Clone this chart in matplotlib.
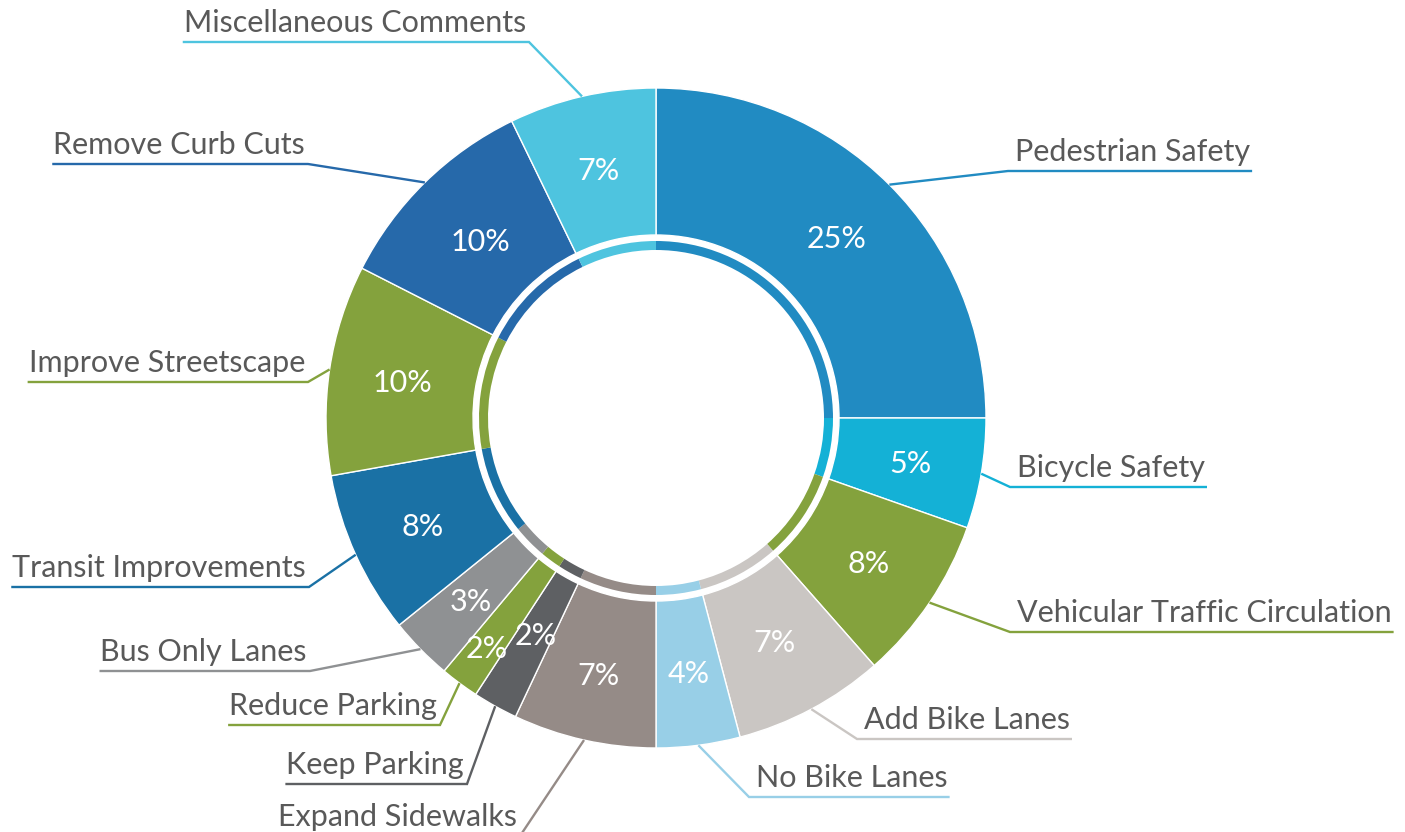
import numpy as np
import matplotlib.pyplot as plt

# Survey comment categories (clockwise from 12 o'clock)
categories = ["Pedestrian Safety", "Bicycle Safety", "Vehicular Traffic Circulation",
              "Add Bike Lanes", "No Bike Lanes", "Expand Sidewalks", "Keep Parking",
              "Reduce Parking", "Bus Only Lanes", "Transit Improvements",
              "Improve Streetscape", "Remove Curb Cuts", "Miscellaneous Comments"]
shares = [25.0, 5.4, 8.1, 7.4, 4.1, 7.0, 2.2, 1.9, 3.1, 8.0, 10.3, 10.3, 7.2]
pct_labels = ["25%", "5%", "8%", "7%", "4%", "7%", "2%", "2%", "3%", "8%", "10%", "10%", "7%"]
colors = ["#218bc2", "#14b1d6", "#84a23d", "#cac6c3", "#98cfe7", "#958b87", "#5e6063",
          "#84a23d", "#8f9193", "#1a71a5", "#84a23d", "#2669aa", "#4ec4df"]

# layout (pixel coords, y down)
W, H = 1405, 832
cx, cy = 656, 418
R_out, ring_w = 330, 147
R_in, in_w = 177, 9
elbows = [(1008, 171), (1010, 487), (1010, 632), (857, 739), (749, 797), (520, 836),
          (467, 784), (440, 725), (310, 671), (309, 587), (308, 382), (308, 164), (529, 42)]
sides = ["r", "r", "r", "r", "r", "l", "l", "l", "l", "l", "l", "l", "l"]
pct_r = [256, 258, 256, 252, 256, 262, 247, 285, 259, 256, 256, 250, 256]

text_col = "#595959"
font = "Lato"
fs = 22

def py(y):
    return H - y

fig = plt.figure(figsize=(W / 100, H / 100), dpi=100)
ax = fig.add_axes([0, 0, 1, 1])

wedges, _ = ax.pie(shares, colors=colors, startangle=90, counterclock=False,
                   radius=R_out, center=(cx, py(cy)), frame=True,
                   wedgeprops=dict(width=ring_w, edgecolor="white", linewidth=1.0))
ax.pie(shares, colors=colors, startangle=90, counterclock=False,
       radius=R_in, center=(cx, py(cy)), frame=True,
       wedgeprops=dict(width=in_w, linewidth=0))

ax.set_xlim(0, W)
ax.set_ylim(0, H)
ax.axis("off")

fig.canvas.draw()
renderer = fig.canvas.get_renderer()

for i, w in enumerate(wedges):
    mid = np.deg2rad((w.theta1 + w.theta2) / 2)
    # percentage inside the ring
    ax.text(cx + pct_r[i] * np.cos(mid), py(cy) + pct_r[i] * np.sin(mid), pct_labels[i],
            color="white", fontsize=fs, family=font, ha="center", va="center_baseline")

    # leader line + underline
    sx, sy = cx + R_out * np.cos(mid), py(cy) + R_out * np.sin(mid)
    ex, ey = elbows[i][0], py(elbows[i][1])
    if sides[i] == "r":
        t = ax.text(ex + 7, ey + 10, categories[i], color=text_col, fontsize=fs,
                    family=font, ha="left", va="baseline")
        bb = t.get_window_extent(renderer)
        x_end = bb.x1 + 2
    else:
        t = ax.text(ex - 3, ey + 10, categories[i], color=text_col, fontsize=fs,
                    family=font, ha="right", va="baseline")
        bb = t.get_window_extent(renderer)
        x_end = bb.x0 - 1
    ax.plot([sx, ex, x_end], [sy, ey, ey], color=colors[i], lw=1.7,
            solid_capstyle="butt", solid_joinstyle="miter")

fig.savefig("out.png", dpi=100, facecolor="white")
